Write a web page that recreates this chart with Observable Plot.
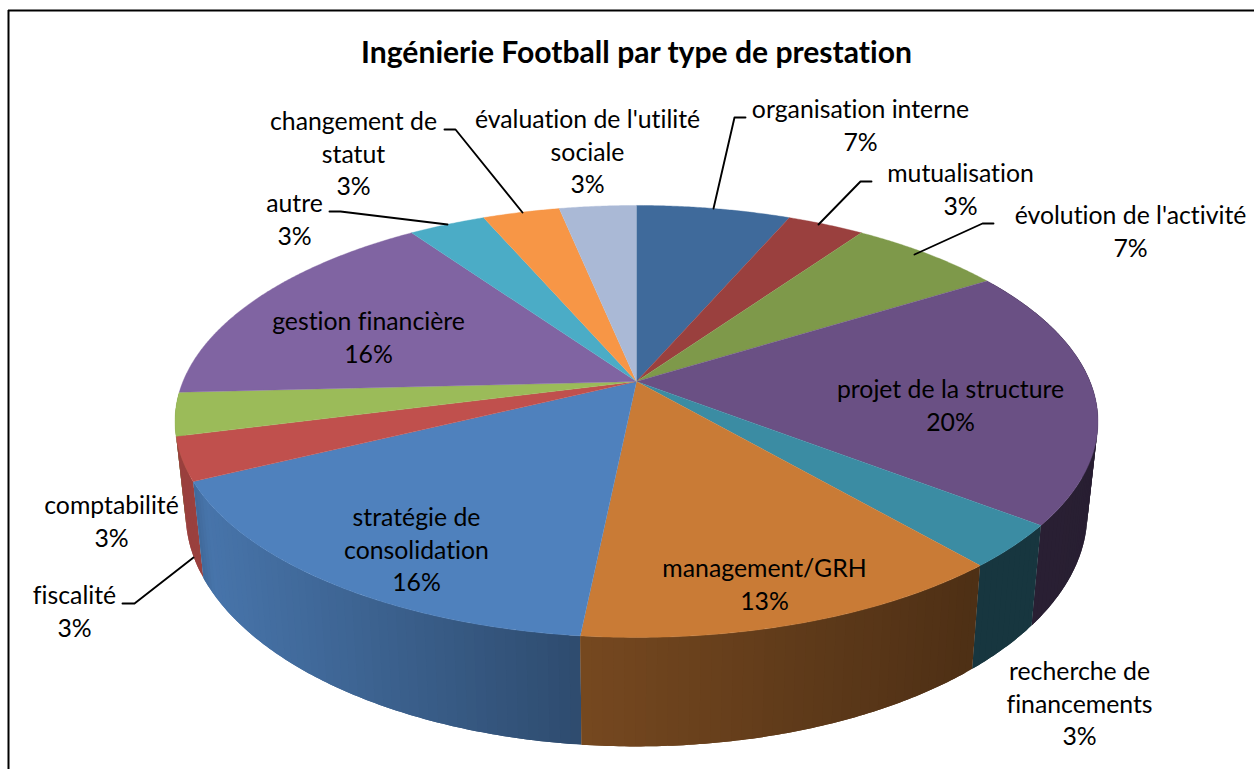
<!DOCTYPE html>
<html><head><meta charset="utf-8">
<style>html,body{margin:0;padding:0;background:#fff;overflow:hidden}svg{display:block}svg text{font-variant-ligatures:none;font-feature-settings:"liga" 0,"clig" 0}</style>
<script src="https://cdn.jsdelivr.net/npm/d3@7"></script>
<script src="https://cdn.jsdelivr.net/npm/@observablehq/plot@0.6"></script>
</head><body>
<div id="chart"></div>
<script>
// Data
const categories = ["organisation interne","mutualisation","évolution de l'activité","projet de la structure","recherche de financements","management/GRH","stratégie de consolidation","fiscalité","comptabilité","gestion financière","autre","changement de statut","évaluation de l'utilité sociale"];
const counts = [2,1,2,6,1,4,5,1,1,5,1,1,1];
const percents = ["7%","3%","7%","20%","3%","13%","16%","3%","3%","16%","3%","3%","3%"];
const colors = ["#3f6a9b","#9a403e","#7e994a","#6a5084","#3b8ca3","#c97b36","#4f81bd","#c0504d","#9bbb59","#8064a2","#4bacc6","#f79646","#aab9d6"];
const titleText = "Ingénierie Football par type de prestation";
const labelLines = [
  ["organisation interne"],["mutualisation"],["évolution de l'activité"],["projet de la structure"],
  ["recherche de","financements"],["management/GRH"],["stratégie de","consolidation"],["fiscalité"],
  ["comptabilité"],["gestion financière"],["autre"],["changement de","statut"],["évaluation de l'utilité","sociale"]
];
// Label layout (pixel centre of first line)
const labelX = [860,960,1130,950,1079,764,416,74,111,368,294,353,587];
const labelY = [110,174,216,390,672,569,518,596,506,322,204,122,120];
const leaders = [
  [[745,117],[734,117],[713,208]],
  [[871,181],[860,181],[818,224]],
  [[993,223],[982,223],[914,254]],
  [[122,603],[134,603],[193,557]],
  [[329,211],[340,211],[447,224]],
  [[444,129],[455,129],[522,212]]
];

// Geometry of the perspective pie
const cx = 636, cy = 381, a = 453.5, b = 208.6, k = 0.185;
const project = t => {
  const X = Math.sin(t), Y = Math.cos(t), d = 1 + k * Y;
  return [cx + a * X / d, cy - b * Y / d];
};
const lower = ([x, y]) => [cx + 0.977 * (x - cx), 1.08 * y + 58];
const total = d3.sum(counts);
const shade = d3.scaleLinear([190,205,580,970,1100],[.8,.9,.585,.39,.38]).clamp(true);
const tint = (c, f) => { const r = d3.rgb(c); return d3.rgb(r.r*f, r.g*f, r.b*f).formatHex(); };

let cum = 0;
const slices = counts.map((v, i) => {
  const t0 = cum / total * 2 * Math.PI; cum += v;
  return {i, t0, t1: cum / total * 2 * Math.PI, color: colors[i]};
});

// Top face: one polygon per slice
const topPts = [];
for (const s of slices) {
  const n = Math.max(4, Math.ceil((s.t1 - s.t0) / 0.006));
  topPts.push({id: s.i, fill: s.color, x: cx, y: cy});
  for (let j = 0; j <= n; j++) {
    const [x, y] = project(s.t0 + (s.t1 - s.t0) * j / n);
    topPts.push({id: s.i, fill: s.color, x, y});
  }
}

// Side wall: overlapping bands, each later band paints over the previous one
const wallPts = [];
let band = 0;
const depth = s => project((s.t0 + s.t1) / 2)[1];
for (const s of [...slices].sort((u, v) => depth(u) - depth(v))) {
  if (depth(s) < 330) continue;
  const n = Math.max(2, Math.ceil((s.t1 - s.t0) / 0.02));
  const at = j => s.t0 + (s.t1 - s.t0) * Math.min(j, n) / n;
  for (let j = 0; j < n; j++) {
    const pts = [project(at(j)), project(at(j + 0.5)), project(at(j + 1)), project(at(j + 1.5)), project(at(j + 2))];
    const fill = tint(s.color, shade(project(at(j + 0.5))[0]));
    const ring = [...pts, ...pts.map(lower).reverse()];
    for (const [x, y] of ring) wallPts.push({id: band, fill, x, y});
    band++;
  }
}

const textRows = [];
categories.forEach((_, i) => {
  const rows = [...labelLines[i], percents[i]];
  rows.forEach((text, j) => textRows.push({text, x: labelX[i], y: labelY[i] + j * 32.4}));
});
const leaderPts = leaders.flatMap((l, id) => l.map(([x, y]) => ({id, x, y})));

const plot = Plot.plot({
  width: 1254, height: 769, margin: 0,
  x: {domain: [0,1254], range: [0,1254], axis: null},
  y: {domain: [0,769], range: [0,769], axis: null},
  color: {type: "identity"},
  style: {background: "#fff"},
  marks: [
    Plot.ruleX([8], {y1: 10, y2: 769, stroke: "#000", strokeWidth: 2}),
    Plot.ruleY([10], {x1: 8, x2: 1254, stroke: "#000", strokeWidth: 2}),
    Plot.line(wallPts, {x: "x", y: "y", z: "id", fill: "fill", stroke: "none"}),
    Plot.line(topPts, {x: "x", y: "y", z: "id", fill: "fill", stroke: "fill", strokeWidth: 0.4}),
    Plot.line(leaderPts, {x: "x", y: "y", z: "id", stroke: "#000", strokeWidth: 1.9}),
    Plot.text(textRows, {x: "x", y: "y", text: "text", fontFamily: "Lato", fontSize: 24.8, fill: "#000", textAnchor: "middle", lineAnchor: "middle"}),
    Plot.text([titleText], {x: () => 636, y: () => 53, text: d => d, fontFamily: "Lato", fontWeight: 700, fontSize: 30.1, fill: "#000", textAnchor: "middle", lineAnchor: "middle"})
  ]
});
document.getElementById("chart").appendChild(plot);
</script>
</body></html>
